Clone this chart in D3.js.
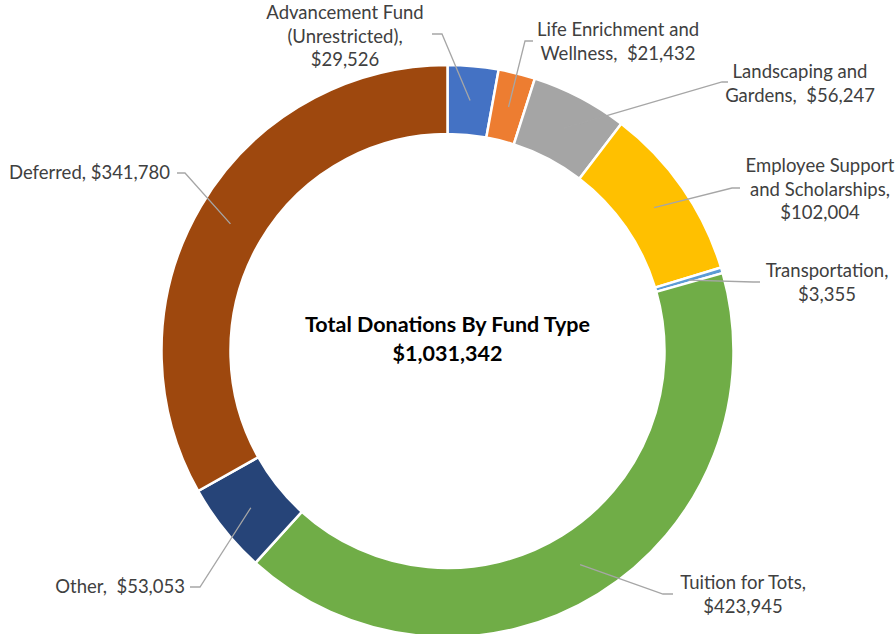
<!DOCTYPE html>
<html>
<head>
<meta charset="utf-8">
<script src="https://cdn.jsdelivr.net/npm/d3@7"></script>
<style>
  html, body { margin: 0; padding: 0; background: #fff; }
  svg { display: block; }
</style>
</head>
<body>
<svg id="chart" width="896" height="634"></svg>
<script>
// ---- data ----
const categories = [
  "Advancement Fund (Unrestricted)",
  "Life Enrichment and Wellness",
  "Landscaping and Gardens",
  "Employee Support and Scholarships",
  "Transportation",
  "Tuition for Tots",
  "Other",
  "Deferred"
];
const values = [29526, 21432, 56247, 102004, 3355, 423945, 53053, 341780];
const labelLines = [
  ["Advancement Fund", "(Unrestricted),", "$29,526"],
  ["Life Enrichment and", "Wellness,  $21,432"],
  ["Landscaping and", "Gardens,  $56,247"],
  ["Employee Support", "and Scholarships,", "$102,004"],
  ["Transportation,", "$3,355"],
  ["Tuition for Tots,", "$423,945"],
  ["Other,  $53,053"],
  ["Deferred, $341,780"]
];
const titleLines = ["Total Donations By Fund Type", "$1,031,342"];

// ---- styles / layout ----
const colors = ["#4472C4", "#ED7D31", "#A5A5A5", "#FFC000", "#5B9BD5", "#70AD47", "#264478", "#9E480E"];
const cx = 447.5, cy = 351, outerR = 286, innerR = 217;
// label layout: text anchor, x, first line y, elbow point, line end
const labelLayout = [
  { anchor: "middle", x: 345, y: 13, elbow: [442, 34], end: [432, 34] },
  { anchor: "middle", x: 618, y: 30, elbow: [525, 41], end: [533, 41] },
  { anchor: "middle", x: 800, y: 72, elbow: [722, 82], end: [728, 82] },
  { anchor: "middle", x: 820, y: 166, elbow: [732, 188], end: [740, 188] },
  { anchor: "middle", x: 827, y: 271, elbow: [753, 282], end: [760, 282] },
  { anchor: "middle", x: 743, y: 583, elbow: [663, 594], end: [673, 594] },
  { anchor: "end", x: 185, y: 587, elbow: [200, 587], end: [190, 587] },
  { anchor: "end", x: 170, y: 173, elbow: [185, 173], end: [177, 173] }
];
const lineHeight = 23.5;
const fontFamily = "Lato, 'Noto Sans', sans-serif";

const svg = d3.select("#chart");
const g = svg.append("g").attr("transform", `translate(${cx},${cy})`);

const pie = d3.pie().sort(null).value(d => d)(values);
const arc = d3.arc().innerRadius(innerR).outerRadius(outerR);
const midArc = d3.arc().innerRadius((innerR + outerR) / 2).outerRadius((innerR + outerR) / 2);

g.selectAll("path.slice")
  .data(pie)
  .join("path")
  .attr("class", "slice")
  .attr("d", arc)
  .attr("fill", (d, i) => colors[i])
  .attr("stroke", "#fff")
  .attr("stroke-width", 2.5)
  .attr("stroke-linejoin", "miter");

// leader lines
pie.forEach((d, i) => {
  const c = midArc.centroid(d);
  const L = labelLayout[i];
  const pts = [[cx + c[0], cy + c[1]], L.elbow, L.end];
  svg.append("path")
    .attr("d", d3.line()(pts))
    .attr("fill", "none")
    .attr("stroke", "#A6A6A6")
    .attr("stroke-width", 1.3);
});

// labels
labelLines.forEach((lines, i) => {
  const L = labelLayout[i];
  const t = svg.append("text")
    .attr("text-anchor", L.anchor)
    .attr("font-family", fontFamily)
    .attr("font-size", 18.5)
    .attr("fill", "#404040");
  lines.forEach((ln, k) => {
    t.append("tspan")
      .attr("x", L.x)
      .attr("y", L.y + k * lineHeight)
      .attr("dy", "0.35em")
      .attr("xml:space", "preserve")
      .style("white-space", "pre")
      .text(ln);
  });
});

// center title
const tt = svg.append("text")
  .attr("text-anchor", "middle")
  .attr("font-family", fontFamily)
  .attr("font-weight", "bold")
  .attr("font-size", 21.5)
  .attr("fill", "#000");
titleLines.forEach((ln, k) => {
  tt.append("tspan")
    .attr("x", cx)
    .attr("y", 324 + k * 29)
    .attr("dy", "0.35em")
    .text(ln);
});
</script>
</body>
</html>
